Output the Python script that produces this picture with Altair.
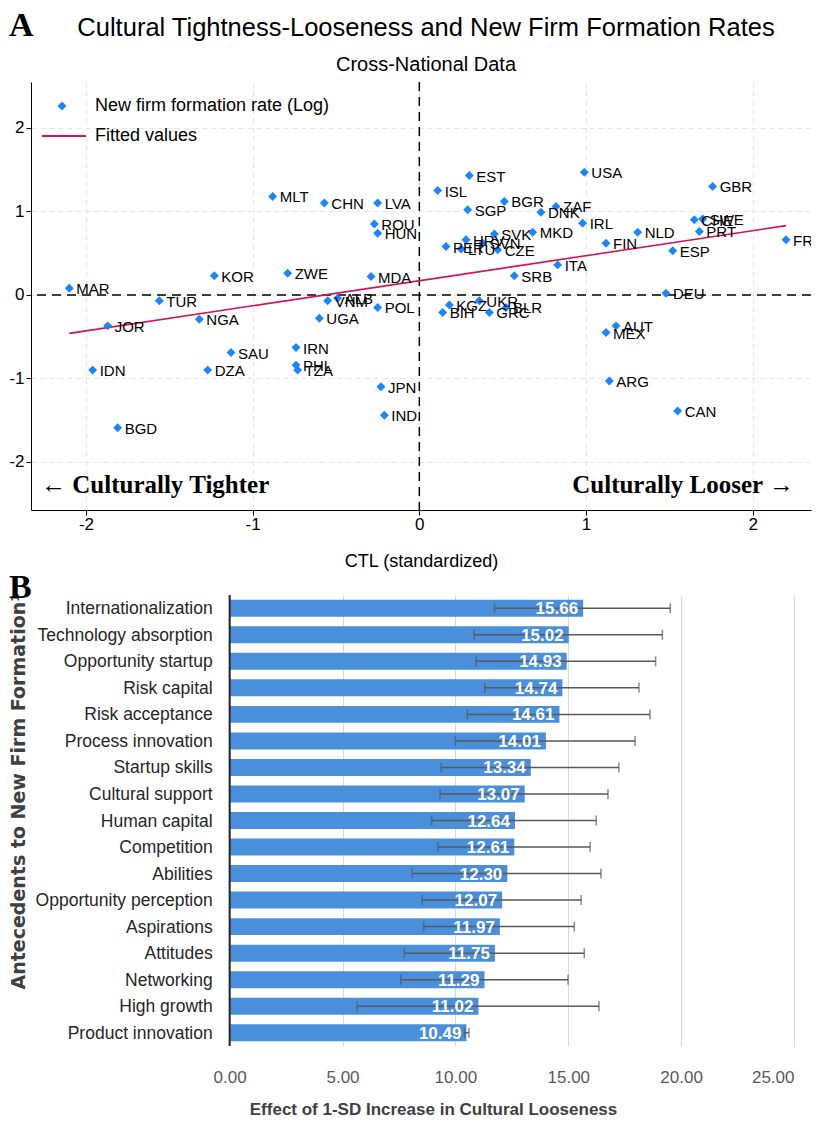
import altair as alt
import pandas as pd

# ---------------- Panel A data ----------------
countries = ["MAR", "TUR", "JOR", "NGA", "KOR", "ZWE", "MLT", "CHN", "LVA", "ROU",
             "HUN", "MDA", "VNM", "ALB", "UGA", "POL", "SAU", "IRN", "PHL", "TZA",
             "IDN", "DZA", "JPN", "IND", "BGD", "EST", "USA", "ISL", "GBR", "SGP",
             "BGR", "ZAF", "DNK", "IRL", "CHE", "SWE", "PRT", "NLD", "FRA", "FIN",
             "ESP", "SVK", "MKD", "PER", "LTU", "HRV", "SVN", "CZE", "ITA", "SRB",
             "DEU", "KGZ", "BIH", "UKR", "GRC", "BLR", "AUT", "MEX", "ARG", "CAN"]
ctl = [-2.10, -1.56, -1.87, -1.32, -1.23, -0.79, -0.88, -0.57, -0.25, -0.27,
       -0.25, -0.29, -0.55, -0.49, -0.60, -0.25, -1.13, -0.74, -0.74, -0.73,
       -1.96, -1.27, -0.23, -0.21, -1.81, 0.30, 0.99, 0.11, 1.76, 0.29,
       0.51, 0.82, 0.73, 0.98, 1.65, 1.70, 1.68, 1.31, 2.20, 1.12,
       1.52, 0.45, 0.68, 0.16, 0.25, 0.28, 0.38, 0.47, 0.83, 0.57,
       1.48, 0.18, 0.14, 0.36, 0.42, 0.52, 1.18, 1.12, 1.14, 1.55]
nffr = [0.08, -0.07, -0.37, -0.29, 0.23, 0.26, 1.18, 1.10, 1.10, 0.85,
        0.74, 0.22, -0.07, -0.04, -0.28, -0.15, -0.69, -0.63, -0.84, -0.90,
        -0.90, -0.90, -1.10, -1.44, -1.59, 1.43, 1.47, 1.25, 1.30, 1.02,
        1.12, 1.06, 0.99, 0.86, 0.90, 0.91, 0.76, 0.75, 0.66, 0.62,
        0.53, 0.73, 0.75, 0.58, 0.55, 0.66, 0.62, 0.54, 0.36, 0.23,
        0.02, -0.12, -0.21, -0.07, -0.21, -0.15, -0.37, -0.45, -1.03, -1.39]
fit_x = [-2.10, 2.20]
fit_y = [-0.46, 0.83]
series_names = ["New firm formation rate (Log)", "Fitted values"]
x_ticks = [-2, -1, 0, 1, 2]
y_ticks = [-2, -1, 0, 1, 2]

# ---------------- Panel B data ----------------
antecedents = ["Internationalization", "Technology absorption", "Opportunity startup",
               "Risk capital", "Risk acceptance", "Process innovation", "Startup skills",
               "Cultural support", "Human capital", "Competition", "Abilities",
               "Opportunity perception", "Aspirations", "Attitudes", "Networking",
               "High growth", "Product innovation"]
effects = [15.66, 15.02, 14.93, 14.74, 14.61, 14.01, 13.34, 13.07, 12.64, 12.61,
           12.30, 12.07, 11.97, 11.75, 11.29, 11.02, 10.49]
ci_low = [11.73, 10.83, 10.92, 11.30, 10.53, 10.00, 9.37, 9.32, 8.95, 9.23,
          8.09, 8.53, 8.60, 7.74, 7.58, 5.65, 10.40]
ci_high = [19.52, 19.17, 18.87, 18.13, 18.62, 17.96, 17.24, 16.76, 16.24, 15.97,
           16.45, 15.57, 15.27, 15.71, 14.99, 16.36, 10.60]
b_ticks = [0, 5, 10, 15, 20, 25]

SANS = "Liberation Sans"
SERIF = "Liberation Serif"

# ---------------- Panel A ----------------
pts = pd.DataFrame({"country": countries, "ctl": ctl, "nffr": nffr,
                    "series": series_names[0]})
fit = pd.DataFrame({"ctl": fit_x, "nffr": fit_y, "series": series_names[1]})

WA, HA = 780, 428
xs = alt.Scale(domain=[-2.33, 2.35], nice=False, zero=False)
ys = alt.Scale(domain=[-2.575, 2.55], nice=False, zero=False)

xax = alt.Axis(values=x_ticks, title="CTL (standardized)", grid=True,
               gridDash=[5, 4], gridColor="#e4e4e4", domainColor="black",
               tickColor="black", tickSize=5, labelPadding=1, labelFontSize=17,
               titleFontSize=18, labelFont=SANS, titleFont=SANS,
               titleFontWeight="normal", labelColor="black", titleColor="black",
               titlePadding=20, labelExpr="'' + datum.value")
yax = alt.Axis(values=y_ticks, title=None, grid=True, gridDash=[5, 4],
               gridColor="#e4e4e4", domainColor="black", tickColor="black",
               tickSize=5, labelFontSize=17, labelFont=SANS, labelColor="black",
               labelPadding=2, labelExpr="'' + datum.value")

X = alt.X("ctl:Q", scale=xs, axis=xax)
Y = alt.Y("nffr:Q", scale=ys, axis=yax)

base_a = alt.Chart(pts).encode(x=X, y=Y)

zero_v = alt.Chart(pd.DataFrame({"z": [0]})).mark_rule(
    color="black", strokeWidth=1.5, strokeDash=[9, 6]).encode(
    x=alt.X("z:Q", scale=xs))
zero_h = alt.Chart(pd.DataFrame({"z": [0]})).mark_rule(
    color="black", strokeWidth=1.5, strokeDash=[9, 6]).encode(
    y=alt.Y("z:Q", scale=ys))

fit_line = alt.Chart(fit).mark_line(strokeWidth=1.6).encode(
    x=alt.X("ctl:Q", scale=xs), y=alt.Y("nffr:Q", scale=ys),
    stroke=alt.Stroke("series:N",
                      scale=alt.Scale(domain=[series_names[1]], range=["#d41159"]),
                      legend=alt.Legend(title=None, orient="none", legendX=10,
                                        legendY=31, symbolType="stroke",
                                        symbolSize=1936, symbolStrokeWidth=2,
                                        labelFontSize=18, labelFont=SANS,
                                        labelColor="black", labelOffset=8,
                                        labelLimit=500, padding=0)))

points = base_a.mark_point(shape="diamond", filled=True, size=80, opacity=1).encode(
    color=alt.Color("series:N",
                    scale=alt.Scale(domain=[series_names[0]], range=["#1a85ff"]),
                    legend=alt.Legend(title=None, orient="none", legendX=22,
                                      legendY=15, symbolType="diamond",
                                      symbolSize=80, symbolOpacity=1,
                                      labelFontSize=18, labelFont=SANS,
                                      labelColor="black", labelOffset=24,
                                      labelLimit=500, padding=0)))

labels = base_a.mark_text(align="left", baseline="middle", dx=7, dy=1,
                          fontSize=15, font=SANS, color="black", clip=True).encode(
    text="country:N")

ann = pd.DataFrame({"t": ["\u2190 Culturally Tighter"]})
ann2 = pd.DataFrame({"t": ["Culturally Looser \u2192"]})
tighter = alt.Chart(ann).mark_text(align="left", baseline="middle", font=SERIF,
                                   fontWeight="bold", fontSize=25, color="black").encode(
    text="t:N", x=alt.value(10), y=alt.value(403))
looser = alt.Chart(ann2).mark_text(align="right", baseline="middle", font=SERIF,
                                   fontWeight="bold", fontSize=25, color="black").encode(
    text="t:N", x=alt.value(763), y=alt.value(403))

panel_a = alt.layer(zero_v, zero_h, fit_line, points, labels, tighter,
                    looser).properties(
    width=WA, height=HA,
    title=alt.TitleParams(
        text="Cultural Tightness-Looseness and New Firm Formation Rates",
        subtitle="Cross-National Data", font=SANS,
        fontSize=25.5, fontWeight="normal", color="black", subtitleFont=SANS,
        subtitleFontSize=20, subtitleColor="black", anchor="middle",
        frame="group", offset=6, subtitlePadding=14, dx=5)
).resolve_scale(color="independent", stroke="independent")

# ---------------- Panel B ----------------
bdf = pd.DataFrame({"item": antecedents, "effect": effects, "lo": ci_low,
                    "hi": ci_high})
WB, HB = 763, 451
bx = alt.Scale(domain=[-8.8, 25], nice=False, zero=False)
by = alt.Scale(domain=antecedents, paddingInner=0.36, paddingOuter=0.18)

bxax = alt.Axis(values=b_ticks, format=".2f", grid=True, gridColor="#d9d9d9",
                domain=False, ticks=False, labelPadding=23, labelFontSize=17,
                labelFont=SANS, labelColor="#595959",
                title="Effect of 1-SD Increase in Cultural Looseness",
                titleFont=SANS, titleFontWeight="bold", titleFontSize=17,
                titleColor="#404040", titlePadding=16, titleX=402)
byax = alt.Axis(title="Antecedents to New Firm Formation\u00b9", titleFont="DejaVu Sans",
                titleFontWeight="bold", titleFontSize=19, titleColor="#404040",
                titlePadding=3, titleY=196, labels=False, ticks=False,
                domain=False, grid=False)

base_b = alt.Chart(bdf).encode(y=alt.Y("item:N", sort=antecedents, scale=by, axis=byax))
bars = base_b.mark_bar(color="#4a8fdb").encode(
    x=alt.X("effect:Q", scale=bx, axis=bxax))
err = base_b.mark_rule(color="#595959", strokeWidth=1.5).encode(
    x=alt.X("lo:Q", scale=bx), x2="hi:Q")
cap_lo = base_b.mark_tick(color="#595959", thickness=1.5, size=10).encode(
    x=alt.X("lo:Q", scale=bx))
cap_hi = base_b.mark_tick(color="#595959", thickness=1.5, size=10).encode(
    x=alt.X("hi:Q", scale=bx))
vals = base_b.mark_text(align="right", baseline="middle", dx=-5, dy=1,
                        color="white", fontWeight="bold", fontSize=17,
                        font=SANS).encode(
    x=alt.X("effect:Q", scale=bx), text=alt.Text("effect:Q", format=".2f"))
cat_labels = base_b.mark_text(align="right", baseline="middle", dx=-17, dy=1,
                              color="#262626", fontSize=17.5, font=SANS).encode(
    x=alt.datum(0), text="item:N")
y_line = alt.Chart(pd.DataFrame({"z": [0]})).mark_rule(
    color="#262626", strokeWidth=2).encode(x=alt.X("z:Q", scale=bx))

panel_b = alt.layer(bars, err, cap_lo, cap_hi, vals, cat_labels, y_line).properties(
    width=WB, height=HB,
    title=alt.TitleParams("B", anchor="start", frame="bounds", font=SERIF,
                          fontSize=34, fontWeight="bold", color="black", offset=-12))

chart = alt.vconcat(panel_a, panel_b, spacing=0).properties(
    padding=0,
    title=alt.TitleParams("A", anchor="start", frame="bounds", font=SERIF,
                          fontSize=34, fontWeight="bold", color="black", offset=-27)
).configure_view(stroke=None)

chart.save("out.html", embed_options={"renderer": "svg", "actions": False})
